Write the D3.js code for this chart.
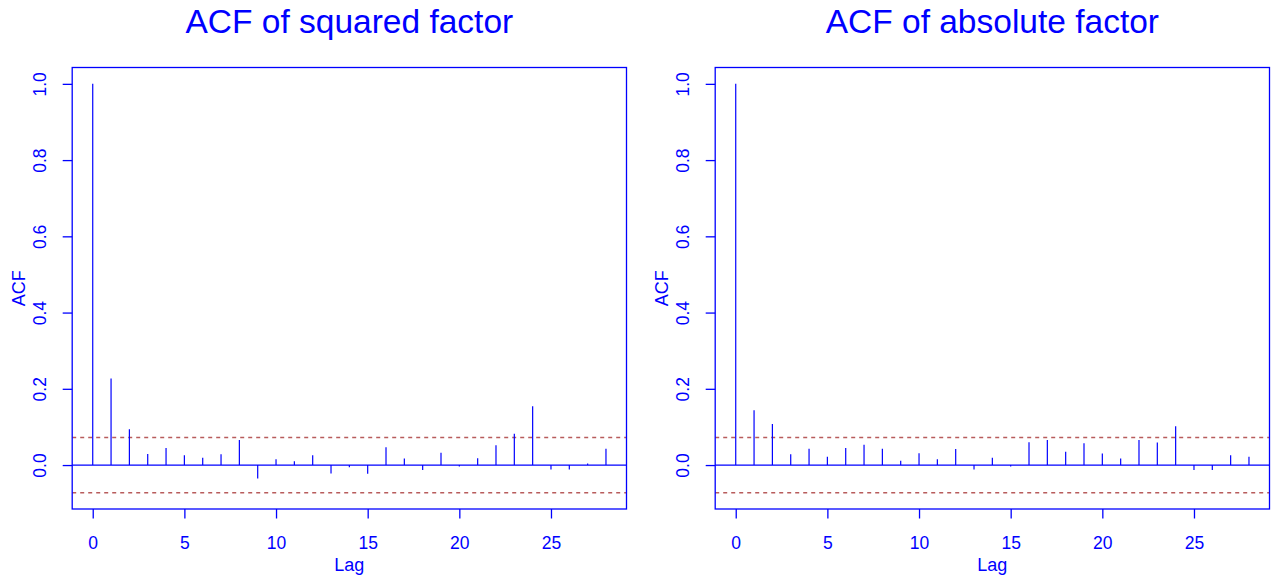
<!DOCTYPE html>
<html>
<head>
<meta charset="utf-8">
<script src="https://cdn.jsdelivr.net/npm/d3@7"></script>
<style>
  body { margin: 0; background: #fff; }
  svg { display: block; font-family: "Liberation Sans", Arial, sans-serif; }
</style>
</head>
<body>
<svg id="chart" width="1278" height="585"></svg>
<script>
// ACF values, lag 0..28
var lags = d3.range(0, 29);
var squaredAcf = [1.0, 0.227, 0.094, 0.029, 0.045, 0.026, 0.019, 0.028, 0.066, -0.035,
    0.015, 0.010, 0.026, -0.022, -0.006, -0.023, 0.047, 0.017, -0.013, 0.032,
    -0.004, 0.018, 0.052, 0.082, 0.154, -0.012, -0.012, 0.004, 0.043];
var absoluteAcf = [1.0, 0.144, 0.108, 0.028, 0.043, 0.022, 0.045, 0.053, 0.043, 0.011,
    0.031, 0.015, 0.042, -0.012, 0.019, -0.004, 0.060, 0.066, 0.035, 0.057,
    0.030, 0.017, 0.066, 0.059, 0.102, -0.013, -0.013, 0.026, 0.022];
var titles = ["ACF of squared factor", "ACF of absolute factor"];
var xTicks = [0, 5, 10, 15, 20, 25];
var yTicks = [0.0, 0.2, 0.4, 0.6, 0.8, 1.0];
var confLimit = 0.0724;

var blue = "#0000ff";
var svg = d3.select("#chart");

function drawPanel(offsetX, title, values) {
    var left = 72.2 + offsetX, right = 626.5 + offsetX;
    var top = 67.5, bottom = 509;

    var xScale = d3.scaleLinear().domain([-1.12, 29.12]).range([left, right]);
    var yScale = d3.scaleLinear().domain([-0.1153, 1.0429]).range([bottom, top]);

    var g = svg.append("g");

    // title
    g.append("text")
        .attr("x", (left + right) / 2)
        .attr("y", 33)
        .attr("text-anchor", "middle")
        .attr("fill", blue)
        .style("font-size", "33.5px")
        .text(title);

    // x axis
    var xAxis = g.append("g")
        .attr("transform", `translate(0, ${bottom})`)
        .call(d3.axisBottom(xScale).tickValues(xTicks).tickSize(9.5).tickPadding(18).tickFormat(d3.format("d")));
    xAxis.select(".domain").remove();
    xAxis.selectAll("line").attr("stroke", blue).attr("stroke-width", 1.3);
    xAxis.selectAll("text").attr("fill", blue).style("font-size", "17.5px").attr("font-family", null);

    // y axis
    var yAxis = g.append("g")
        .attr("transform", `translate(${left}, 0)`)
        .call(d3.axisLeft(yScale).tickValues(yTicks).tickSize(9.5).tickFormat(d3.format(".1f")));
    yAxis.select(".domain").remove();
    yAxis.selectAll("line").attr("stroke", blue).attr("stroke-width", 1.3);
    yAxis.selectAll("text")
        .attr("fill", blue)
        .attr("font-family", null)
        .style("font-size", "17.5px")
        .attr("x", null).attr("dy", null)
        .attr("text-anchor", "middle")
        .attr("transform", `translate(-26, 0) rotate(-90)`);

    // axis titles
    g.append("text")
        .attr("x", (left + right) / 2)
        .attr("y", 571)
        .attr("text-anchor", "middle")
        .attr("fill", blue)
        .style("font-size", "18px")
        .text("Lag");
    g.append("text")
        .attr("transform", `translate(${left - 47}, ${(top + bottom) / 2}) rotate(-90)`)
        .attr("text-anchor", "middle")
        .attr("fill", blue)
        .style("font-size", "18px")
        .text("ACF");

    // zero line
    g.append("line")
        .attr("x1", left).attr("x2", right)
        .attr("y1", yScale(0)).attr("y2", yScale(0))
        .attr("stroke", blue).attr("stroke-width", 1.3);

    // confidence bounds
    [confLimit, -confLimit].forEach(function(c) {
        g.append("line")
            .attr("x1", left).attr("x2", right)
            .attr("y1", yScale(c)).attr("y2", yScale(c))
            .attr("stroke", "#b85c5c")
            .attr("stroke-width", 1.5)
            .attr("stroke-dasharray", "4,4");
    });

    // spikes
    g.selectAll(".spike")
        .data(lags)
        .enter().append("line")
        .attr("class", "spike")
        .attr("x1", function(d) { return xScale(d); })
        .attr("x2", function(d) { return xScale(d); })
        .attr("y1", yScale(0))
        .attr("y2", function(d) { return yScale(values[d]); })
        .attr("stroke", blue)
        .attr("stroke-width", 1.2);

    // box
    g.append("rect")
        .attr("x", left).attr("y", top)
        .attr("width", right - left).attr("height", bottom - top)
        .attr("fill", "none")
        .attr("stroke", blue)
        .attr("stroke-width", 1.3);
}

drawPanel(0, titles[0], squaredAcf);
drawPanel(643, titles[1], absoluteAcf);
</script>
</body>
</html>
